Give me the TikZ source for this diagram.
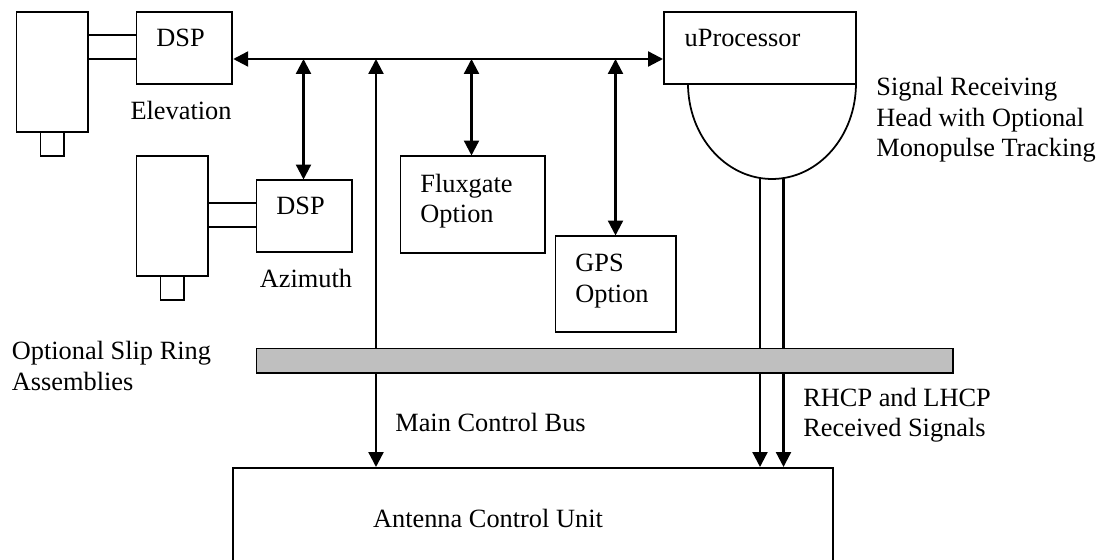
\documentclass[tikz,border=0pt]{standalone}
\usepackage{fontspec}
\setmainfont{Liberation Serif}
\usetikzlibrary{positioning,arrows.meta}
\tikzset{
    blockbox/.style={draw,rectangle,line width=1pt,inner sep=0pt,anchor=north west},
    thinline/.style={line width=1pt},
    sigline/.style={line width=1.3pt},
    busline/.style={line width=1.3pt,{Triangle[length=8.5pt,width=8.5pt]}-{Triangle[length=8.5pt,width=8.5pt]}},
    downline/.style={line width=1.3pt,-{Triangle[length=8.5pt,width=8.5pt]}},
    uptip/.style={line width=1.3pt,{Triangle[length=8.5pt,width=8.5pt]}-},
    caption/.style={inner sep=0pt,align=left,font=\fontsize{15}{17.3}\selectfont}
}
\begin{document}
\begin{tikzpicture}[x=0.02cm,y=-0.02cm]
    \useasboundingbox (0,0) rectangle (1104,560);
    \clip (0,0) rectangle (1104,560);

    % Elevation motor and DSP
    \node[blockbox,minimum width=1.44cm,minimum height=2.4cm] (motorel) at (15.5,11.5) {};
    \node[blockbox,minimum width=0.48cm,minimum height=0.48cm] (stubel) at (39.5,131.5) {};
    \node[blockbox,minimum width=1.92cm,minimum height=1.44cm] (dspel) at (135.5,11.5) {};
    \node[caption] (dspeltext) at (180.5,38) {DSP};
    \node[caption] (elevation) at (181,110) {Elevation};
    \draw[thinline] (motorel.east |- 0,35) -- (dspel.west |- 0,35);
    \draw[thinline] (motorel.east |- 0,59) -- (dspel.west |- 0,59);

    % Azimuth motor and DSP
    \node[blockbox,minimum width=1.44cm,minimum height=2.4cm] (motoraz) at (135.5,155.5) {};
    \node[blockbox,minimum width=0.48cm,minimum height=0.48cm] (stubaz) at (159.5,275.5) {};
    \node[blockbox,minimum width=1.92cm,minimum height=1.44cm] (dspaz) at (255.5,179.5) {};
    \node[caption] (dspaztext) at (300.5,206) {DSP};
    \node[caption] (azimuth) at (306,278) {Azimuth};
    \draw[thinline] (motoraz.east |- 0,203) -- (dspaz.west |- 0,203);
    \draw[thinline] (motoraz.east |- 0,227) -- (dspaz.west |- 0,227);

    % Options
    \node[blockbox,minimum width=2.9cm,minimum height=1.93cm] (fluxgate) at (399.5,155.5) {};
    \node[caption] (fluxgatetext) at (466.5,201) {Fluxgate\\Option};
    \node[blockbox,minimum width=2.41cm,minimum height=1.92cm] (gps) at (554.5,235.5) {};
    \node[caption] (gpstext) at (612,281) {GPS\\Option};

    % Signal receiving head
    \node[blockbox,minimum width=3.85cm,minimum height=1.44cm] (uproc) at (663,11.5) {};
    \node[caption] (uproctext) at (742.5,38) {uProcessor};
    \coordinate (headleft) at (688,83.5);
    \draw[thinline] (headleft) arc[start angle=180,end angle=360,x radius=1.68cm,y radius=1.91cm];
    \node[caption,anchor=west] (headtext) at (876,120) {Signal Receiving\\Head with Optional\\Monopulse Tracking};

    % Slip ring and control unit
    \node[blockbox,fill=black!25,minimum width=13.93cm,minimum height=0.49cm] (slipring) at (255.5,347.5) {};
    \node[caption,anchor=west] (sliptext) at (11.5,366) {Optional Slip Ring\\Assemblies};
    \node[blockbox,minimum width=12cm,minimum height=3cm] (acu) at (232,467) {};
    \node[caption] (acutext) at (488,518) {Antenna Control Unit};

    % Main bus
    \coordinate (busaz) at (303.5,59);
    \coordinate (busmain) at (376,59);
    \coordinate (busflux) at (471.5,59);
    \coordinate (busgps) at (615.5,59);
    \draw[busline] (dspel.east |- busaz) -- (uproc.west |- busaz);
    \draw[busline] (busaz) -- (dspaz.north -| busaz);
    \draw[busline] (busflux) -- (fluxgate.north -| busflux);
    \draw[busline] (busgps) -- (gps.north -| busgps);

    % Control bus through the slip ring
    \draw[uptip] (busmain) -- (slipring.north -| busmain);
    \draw[downline] (slipring.south -| busmain) -- (acu.north -| busmain);
    \node[caption,anchor=west] (bustext) at (395,422.5) {Main Control Bus};

    % RHCP and LHCP lines
    \coordinate (rhcp) at (760,179);
    \coordinate (lhcp) at (783.5,179);
    \draw[sigline] (rhcp) -- (slipring.north -| rhcp);
    \draw[sigline] (lhcp) -- (slipring.north -| lhcp);
    \draw[downline] (slipring.south -| rhcp) -- (acu.north -| rhcp);
    \draw[downline] (slipring.south -| lhcp) -- (acu.north -| lhcp);
    \node[caption,anchor=west] (rhcptext) at (803,415) {RHCP and LHCP\\Received Signals};
\end{tikzpicture}
\end{document}
